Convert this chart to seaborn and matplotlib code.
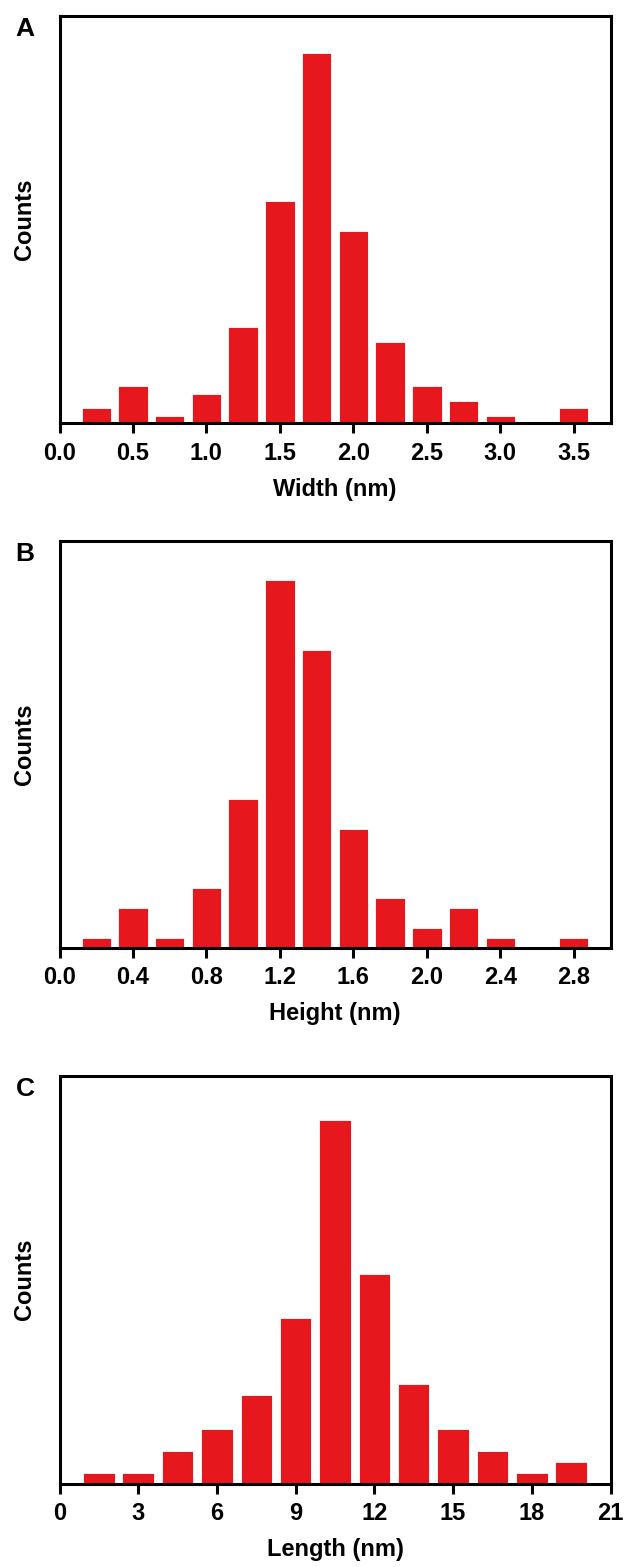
import matplotlib
matplotlib.use("Agg")
import numpy as np
import pandas as pd
import matplotlib.pyplot as plt
import matplotlib.ticker as mticker
import seaborn as sns

sns.set_style("ticks")
plt.rcParams['font.family'] = ['Liberation Sans', 'DejaVu Sans']
plt.rcParams['text.color'] = 'black'
plt.rcParams['axes.labelcolor'] = 'black'
plt.rcParams['xtick.color'] = 'black'

# bin centres (nm) and counts
width_bins = [0.25, 0.5, 0.75, 1.0, 1.25, 1.5, 1.75, 2.0, 2.25, 2.5, 2.75, 3.0, 3.25, 3.5]
width_counts = [2, 5, 1, 4, 13, 30, 50, 26, 11, 5, 3, 1, 0, 2]

height_bins = [0.2, 0.4, 0.6, 0.8, 1.0, 1.2, 1.4, 1.6, 1.8, 2.0, 2.2, 2.4, 2.6, 2.8]
height_counts = [1, 4, 1, 6, 15, 37, 30, 12, 5, 2, 4, 1, 0, 1]

length_bins = [1.5, 3, 4.5, 6, 7.5, 9, 10.5, 12, 13.5, 15, 16.5, 18, 19.5]
length_counts = [1, 1, 3, 5, 8, 15, 33, 19, 9, 5, 3, 1, 2]

width_ticks = [0.0, 0.5, 1.0, 1.5, 2.0, 2.5, 3.0, 3.5]
height_ticks = [0.0, 0.4, 0.8, 1.2, 1.6, 2.0, 2.4, 2.8]
length_ticks = [0, 3, 6, 9, 12, 15, 18, 21]

RED = '#E6181E'
W, H = 633, 1567

panels = [
    ('A', width_bins, width_counts, width_ticks, 'Width (nm)', (0, 3.75), 55, '%.1f', 15.7, 423.3),
    ('B', height_bins, height_counts, height_ticks, 'Height (nm)', (0, 3.0), 41, '%.1f', 540.7, 947.7),
    ('C', length_bins, length_counts, length_ticks, 'Length (nm)', (0, 21), 37, '%d', 1075.7, 1483.7),
]

fig = plt.figure(figsize=(W / 100, H / 100), dpi=100)

for letter, bins, counts, ticks, xlabel, xlim, ytop, fmt, top, bottom in panels:
    ax = fig.add_axes([59.5 / W, 1 - bottom / H, 551 / W, (bottom - top) / H])
    df = pd.DataFrame({'x': bins, 'n': counts})
    sns.barplot(data=df, x='x', y='n', native_scale=True, width=0.8,
                color=RED, saturation=1, edgecolor='white', linewidth=0.6, ax=ax)
    ax.set_xlim(*xlim)
    ax.set_ylim(0, ytop)
    ax.set_xticks(ticks)
    ax.xaxis.set_major_formatter(mticker.FormatStrFormatter(fmt))
    ax.set_yticks([])
    for s in ax.spines.values():
        s.set_linewidth(2.2)
        s.set_color('black')
    ax.tick_params(axis='x', direction='out', length=7.5, width=2.2, pad=6,
                   labelsize=17)
    for lab in ax.get_xticklabels():
        lab.set_fontweight('bold')
    ax.set_xlabel(xlabel, fontsize=17, fontweight='bold', labelpad=9)
    ax.set_ylabel('Counts', fontsize=17, fontweight='bold', labelpad=17)
    fig.text(25 / W, 1 - (top + 13) / H, letter, fontsize=19, fontweight='bold',
             ha='center', va='center')

fig.savefig('out.png', dpi=100)
